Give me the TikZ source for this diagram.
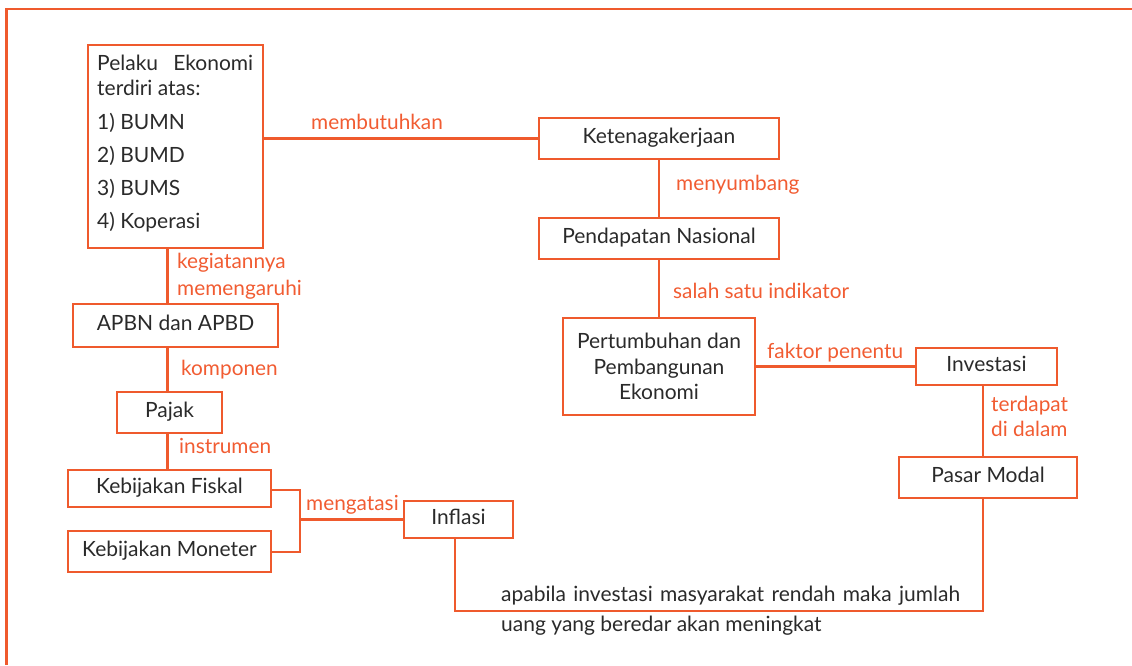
\documentclass[tikz,border=0pt]{standalone}
\usepackage{fontspec}
\setmainfont{Lato}
\definecolor{lineorange}{HTML}{EF5A2D}
\definecolor{labelorange}{HTML}{F15C32}
\definecolor{inkgray}{HTML}{2A2A2A}

\begin{document}
\begin{tikzpicture}[x=1pt,y=-1pt,
  box/.style={draw=lineorange, line width=2.5pt, inner sep=0pt, text=inkgray,
    font=\fontsize{21}{25.5}\selectfont, align=center,
    text height=14.5pt, text depth=4.5pt},
  link/.style={draw=lineorange, line width=2.5pt},
  frame/.style={draw=lineorange, line width=2.8pt},
  lbl/.style={text=labelorange, font=\fontsize{20.8}{22}\selectfont,
    anchor=base west, inner sep=0pt},
  body/.style={text=inkgray, font=\fontsize{21}{22}\selectfont,
    anchor=base west, inner sep=0pt}]
\useasboundingbox (0,0) rectangle (1132,665);

% outer frame (top and left edges)
\coordinate (frTL) at (6.5,9);
\coordinate (frTR) at (1132,9);
\coordinate (frBL) at (6.5,665);
\draw[frame] (frTR) -- (frTL) -- (frBL);

% boxes
\node[box, minimum width=175pt, minimum height=203pt] (pelaku) at (175.5,146.5) {};
\node[box, minimum width=240pt, minimum height=41pt] (kete) at (659,138.5) {Ketenagakerjaan};
\node[box, minimum width=240pt, minimum height=41pt] (penda) at (659,238.5) {Pendapatan Nasional};
\node[box, minimum width=192pt, minimum height=97pt, text height=, text depth=] (pertum) at (659,366.5)
  {Pertumbuhan dan\\Pembangunan\\Ekonomi};
\node[box, minimum width=141pt, minimum height=37pt] (invest) at (986.5,366.5) {Investasi};
\node[box, minimum width=178pt, minimum height=41pt] (pasar) at (988,477.5) {Pasar Modal};
\node[box, minimum width=205pt, minimum height=43pt] (apbn) at (175.5,325.5) {APBN dan APBD};
\node[box, minimum width=105pt, minimum height=41pt] (pajak) at (169.5,412.5) {Pajak};
\node[box, minimum width=203pt, minimum height=37pt] (kf) at (169.5,488.5) {Kebijakan Fiskal};
\node[box, minimum width=203pt, minimum height=41pt] (km) at (169.5,551.5) {Kebijakan Moneter};
\node[box, minimum width=109pt, minimum height=37pt] (inflasi) at (458.5,519.5) {Inflasi};

% contents of the first box
\node[body] (pelakuA) at (97,70) {\makebox[156pt][s]{Pelaku Ekonomi}};
\node[body] (pelakuB) at (97,95) {terdiri atas:};
\node[body] (pelakuC) at (97,129) {1) BUMN};
\node[body] (pelakuD) at (97,162) {2) BUMD};
\node[body] (pelakuE) at (97,195) {3) BUMS};
\node[body] (pelakuF) at (97,228) {4) Koperasi};

% connectors
\coordinate (colx) at (167.5,0);
\coordinate (rightx) at (983,0);
\coordinate (lowR) at (983,611);
\coordinate (lowL) at (455,611);
\coordinate (brT) at (300,490);
\coordinate (brB) at (300,552);

\draw[link] (pelaku.east |- kete.west) -- (kete.west);
\draw[link] (kete.south) -- (penda.north);
\draw[link] (penda.south) -- (pertum.north);
\draw[link] (pertum.east |- invest.west) -- (invest.west);
\draw[link] (invest.south -| rightx) -- (pasar.north -| rightx);
\draw[link] (pasar.south -| rightx) -- (lowR) -- (lowL) -- (inflasi.south -| lowL);
\draw[link] (pelaku.south -| colx) -- (apbn.north -| colx);
\draw[link] (apbn.south -| colx) -- (pajak.north -| colx);
\draw[link] (pajak.south -| colx) -- (kf.north -| colx);
\draw[link] (kf.east |- brT) -- (brT) -- (brB) -- (km.east |- brB);
\draw[link] (brB |- inflasi.west) -- (inflasi.west);

% connector labels
\node[lbl] (tMembutuhkan) at (311,129) {membutuhkan};
\node[lbl] (tMenyumbang) at (676,190) {menyumbang};
\node[lbl] (tIndikator) at (673,298) {salah satu indikator};
\node[lbl] (tKegiatan) at (177,268) {kegiatannya};
\node[lbl] (tMemengaruhi) at (177,295) {memengaruhi};
\node[lbl] (tKomponen) at (181,375) {komponen};
\node[lbl] (tInstrumen) at (179,453) {instrumen};
\node[lbl] (tMengatasi) at (306,510) {mengatasi};
\node[lbl] (tFaktor) at (767,358) {faktor penentu};
\node[lbl] (tTerdapat) at (991,411) {terdapat};
\node[lbl] (tDidalam) at (991,436) {di dalam};

% note under the lower connector
\node[body] (noteA) at (501,601) {\makebox[459pt][s]{apabila investasi masyarakat rendah maka jumlah}};
\node[body] (noteB) at (501,631) {uang yang beredar akan meningkat};
\end{tikzpicture}
\end{document}
